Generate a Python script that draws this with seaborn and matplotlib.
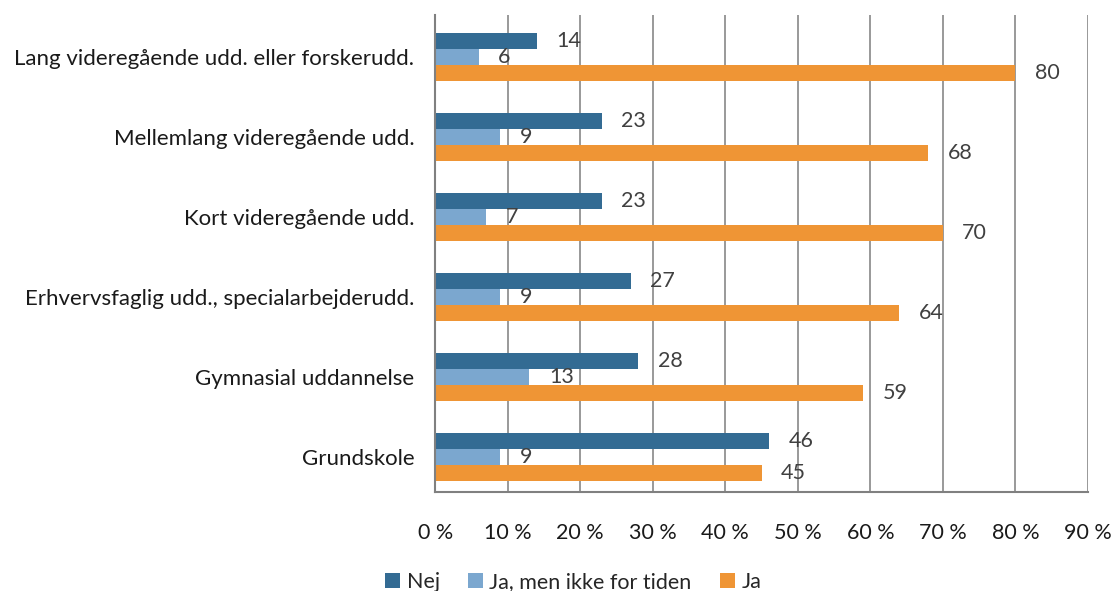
import numpy as np
import pandas as pd
import matplotlib
matplotlib.use("Agg")
import matplotlib.pyplot as plt
import seaborn as sns

categories = ["Lang videregående udd. eller forskerudd.",
              "Mellemlang videregående udd.",
              "Kort videregående udd.",
              "Erhvervsfaglig udd., specialarbejderudd.",
              "Gymnasial uddannelse",
              "Grundskole"]
series = ["Nej", "Ja, men ikke for tiden", "Ja"]
nej = [14, 23, 23, 27, 28, 46]
ja_ikke = [6, 9, 7, 9, 13, 9]
ja = [80, 68, 70, 64, 59, 45]
colors = ["#336B93", "#7BA7CF", "#EF9535"]

df = pd.DataFrame({
    "kategori": categories * 3,
    "serie": [s for s in series for _ in categories],
    "værdi": nej + ja_ikke + ja,
})

sns.set_style("white")
plt.rcParams['font.family'] = ['Lato', 'DejaVu Sans']

fig = plt.figure(figsize=(11.13, 5.91), dpi=100)
ax = fig.add_axes([0.391, 0.1675, 0.5865, 0.8075])

sns.barplot(df, x="værdi", y="kategori", hue="serie", order=categories,
            hue_order=series, palette=colors, orient="h", width=0.6,
            saturation=1, ax=ax, edgecolor="none")

for c in ax.containers:
    ax.bar_label(c, padding=14, fontsize=15.5, color="#404040")

ax.set_xlim(0, 90)
ax.set_xticks(range(0, 91, 10))
ax.set_xticklabels([f"{v} %" for v in range(0, 91, 10)])
ax.xaxis.grid(True, color="#888888", linewidth=1.2)
ax.set_axisbelow(True)
ax.set_xlabel("")
ax.set_ylabel("")
ax.tick_params(axis="both", length=0, labelsize=15.5, colors="#1a1a1a")
ax.tick_params(axis="y", labelsize=16, pad=15)
ax.tick_params(axis="x", pad=22)
ax.set_ylim(5.44, -0.525)
for s in ["top", "right"]:
    ax.spines[s].set_visible(False)
for s in ["left", "bottom"]:
    ax.spines[s].set_color("#808080")
    ax.spines[s].set_linewidth(1.5)

handles, labels = ax.get_legend_handles_labels()
ax.get_legend().remove()
fig.legend(handles, labels, loc="lower center", bbox_to_anchor=(0.515, -0.035),
           ncol=3, frameon=False, fontsize=15.5, handlelength=0.7,
           handleheight=0.7, handletextpad=0.3, columnspacing=1.3)

fig.savefig("out.png", dpi=100)
